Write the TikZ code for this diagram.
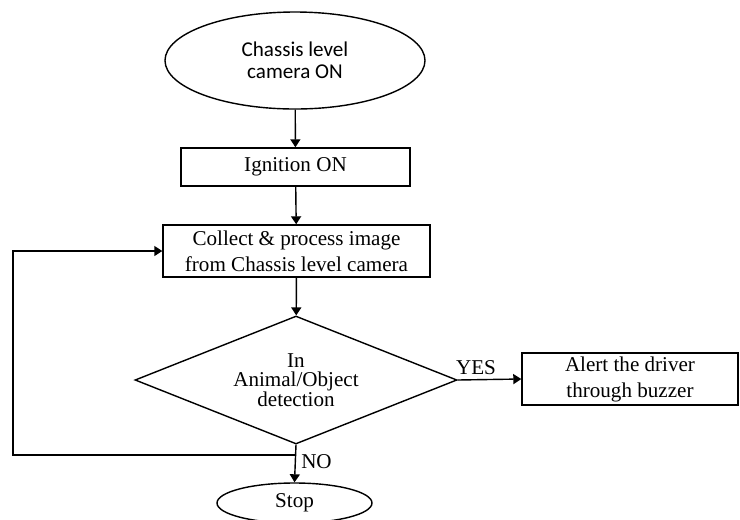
\documentclass[tikz,border=0pt]{standalone}
\usepackage{fontspec}
\setmainfont{Liberation Serif}
\newfontfamily\calib{Carlito}
\usetikzlibrary{shapes.geometric,arrows.meta}

\begin{document}
\begin{tikzpicture}[
	line width=0.8pt,
	arr/.style={-{Triangle[length=1.6mm,width=2mm]}},
	procbox/.style={draw, rectangle, inner sep=0pt, align=center,
		font=\fontsize{12}{14.8}\selectfont},
	oval/.style={draw, ellipse, inner sep=0pt, align=center},
	lbl/.style={font=\fontsize{12}{14}\selectfont}
	]
	\useasboundingbox (0,0) rectangle (14.8,-10.38);
	
	\node[oval, minimum width=5.2cm, minimum height=1.94cm,
	font=\calib\fontsize{12}{12.6}\selectfont] (cam) at (5.9,-1.21) {Chassis level\\camera ON};
	\node[procbox, minimum width=4.58cm, minimum height=0.76cm] (ign) at (5.91,-3.34) {Ignition ON};
	\node[procbox, minimum width=5.34cm, minimum height=1.04cm] (coll) at (5.93,-5.02)
	{Collect \& process image\\from Chassis level camera};
	\node[draw, diamond, shape aspect=2.5, inner sep=0pt, align=center,
	minimum width=6.44cm, minimum height=2.56cm,
	font=\fontsize{12}{11.2}\selectfont] (dec) at (5.92,-7.6) {In\\Animal/Object\\detection};
	\node[procbox, minimum width=4.32cm, minimum height=1.04cm] (alert) at (12.6,-7.58)
	{Alert the driver\\through buzzer};
	\node[oval, minimum width=3.1cm, minimum height=0.8cm,
	font=\fontsize{12}{14}\selectfont] (stop) at (5.89,-10.06) {Stop};
	
	\coordinate (nojoin) at (5.92,-9.1);
	\coordinate (loopcorner) at (0.26,-9.1);
	
	\draw[arr] (cam) -- (ign);
	\draw[arr] (ign) -- (coll);
	\draw[arr] (coll) -- (dec);
	\draw[arr] (dec.east) -- (alert.west);
	\draw[arr] (dec.south) -- (stop.north);
	\draw[arr] (nojoin) -- (loopcorner) |- (coll.west);
	
	\node[lbl] (yes) at (9.52,-7.36) {YES};
	\node[lbl] (no) at (6.33,-9.24) {NO};
\end{tikzpicture}
\end{document}
